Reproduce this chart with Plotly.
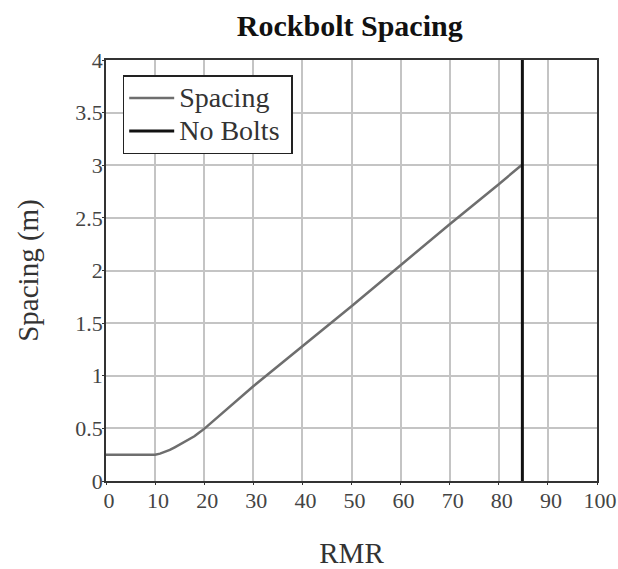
import plotly.graph_objects as go

rmr = [0, 5, 10, 11, 12, 13, 14, 15, 16, 17, 18, 19, 20, 30, 40, 50, 60, 70, 80, 84.6]
spacing = [0.25, 0.25, 0.25, 0.26, 0.275, 0.295, 0.32, 0.345, 0.37, 0.395, 0.425, 0.46, 0.495, 0.9, 1.28, 1.66, 2.05, 2.44, 2.82, 3.0]
nobolt_x = [84.8, 84.8]
nobolt_y = [0, 4]
x_ticks = list(range(0, 101, 10))
y_ticks = [0, 0.5, 1, 1.5, 2, 2.5, 3, 3.5, 4]
series_names = ["Spacing", "No Bolts"]

font = "Liberation Serif"

def legend_label(s):
    return '<span style="font-size:28px">' + s + '</span>&nbsp;'

fig = go.Figure()
fig.add_trace(go.Scatter(x=rmr, y=spacing, mode="lines", name=legend_label(series_names[0]),
                         line=dict(color="#6e6e6e", width=2.5)))
fig.add_trace(go.Scatter(x=nobolt_x, y=nobolt_y, mode="lines", name=legend_label(series_names[1]),
                         line=dict(color="#111111", width=3)))

fig.update_layout(
    width=618, height=569,
    margin=dict(l=106, r=21, t=60, b=88, autoexpand=False),
    paper_bgcolor="white", plot_bgcolor="white",
    title=dict(text="<b>Rockbolt Spacing</b>", x=0.566, xanchor="center", y=0.955, yanchor="middle",
               font=dict(family=font, size=30, color="#111")),
    font=dict(family=font, color="#333"),
    showlegend=True,
    legend=dict(x=0.034, y=0.964, xanchor="left", yanchor="top",
                bordercolor="#222", borderwidth=1.5, bgcolor="white",
                font=dict(family=font, size=23, color="#333"),
                tracegroupgap=0, itemwidth=45),
    xaxis=dict(range=[0, 100], tickvals=x_ticks, ticktext=[str(v) for v in x_ticks],
               showgrid=True, gridcolor="#c4c4c4", gridwidth=1.5,
               showline=True, linecolor="#333", linewidth=1.5, mirror=True,
               ticks="outside", ticklen=2, tickcolor="#333", automargin=False,
               ticklabelstandoff=-3, ticklabelshift=3,
               tickfont=dict(family=font, size=22, color="#444"),
               title=dict(text="RMR", font=dict(family=font, size=29, color="#333"), standoff=44),
               zeroline=False),
    yaxis=dict(range=[0, 4], tickvals=y_ticks, ticktext=[str(v) for v in y_ticks],
               showgrid=True, gridcolor="#c4c4c4", gridwidth=1.5,
               showline=True, linecolor="#333", linewidth=1.5, mirror=True,
               ticks="outside", ticklen=2, tickcolor="#333", automargin=False,
               ticklabelstandoff=-5,
               tickfont=dict(family=font, size=22, color="#444"),
               title=dict(text="Spacing (m)", font=dict(family=font, size=29, color="#333"), standoff=28),
               zeroline=False),
)

fig.write_html("out.html", config={"displayModeBar": False},
               post_script="document.body.style.margin='0';")
